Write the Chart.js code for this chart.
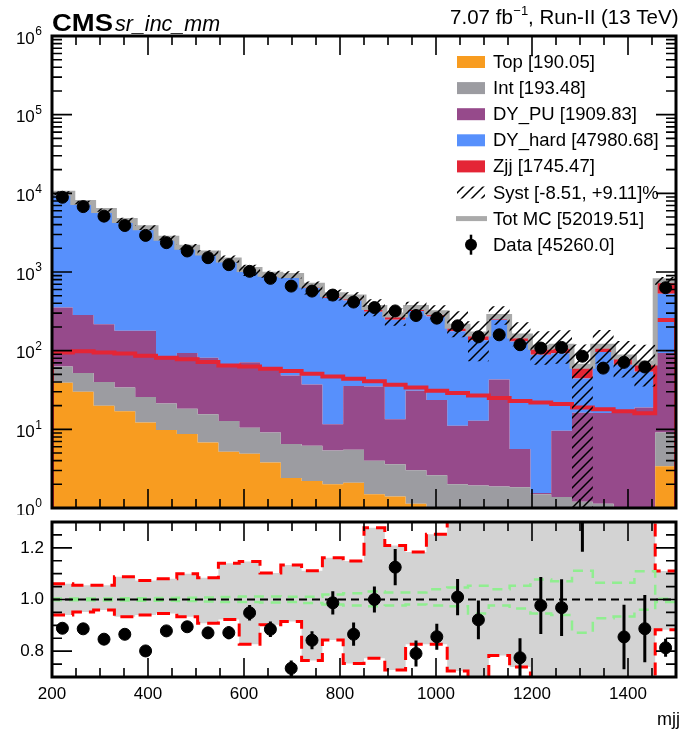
<!DOCTYPE html>
<html>
<head>
<meta charset="utf-8">
<script src="https://cdn.jsdelivr.net/npm/chart.js@4.4.1/dist/chart.umd.min.js"></script>
<style>
  html, body { margin: 0; padding: 0; background: #fff; }
  #wrap { position: relative; width: 683px; height: 732px; }
  #mainChart { position: absolute; left: 0; top: 0; }
  #ratioChart { position: absolute; left: 0; top: 515px; }
</style>
</head>
<body>
<div id="wrap">
  <canvas id="mainChart" width="683" height="515"></canvas>
  <canvas id="ratioChart" width="683" height="217"></canvas>
</div>
<script>
// mjj bin edges (30 bins, last one is the overflow)
const edges = [200, 243.33, 286.67, 330, 373.33, 416.67, 460, 503.33, 546.67, 590, 633.33, 676.67, 720,
  763.33, 806.67, 850, 893.33, 936.67, 980, 1023.33, 1066.67, 1110, 1153.33, 1196.67, 1240, 1283.33,
  1326.67, 1370, 1413.33, 1456.67, 1500];

// MC components, bottom of the stack first
const topBkg = [39, 30, 20, 17, 12.2, 9.8, 8.7, 6.8, 5.2, 4.9, 3.8, 2.4, 2.2, 2.0, 2.1, 1.5, 1.4, 1.13, 0.9, 0.8,
  0.7, 0.6, 0.5, 0.4, 0.3, 0.3, 0.2, 0.2, 0.15, 3.4];
const intBkg = [24, 22, 20, 17, 13.6, 11.5, 9.6, 8.7, 7.6, 5.6, 5.3, 4.1, 4.0, 3.4, 3.4, 2.5, 2.2, 1.9, 1.7, 1.2,
  1.23, 1.28, 1.34, 1.1, 1.08, 0.9, 0.93, 0.83, 0.75, 5.7];
const dyPU = [290, 233, 177, 145, 153, 61, 75, 66, 55, 61, 51, 42, 31, 6.2, 30, 31, 9.8, 28, 21, 9.1,
  10.9, 41, 3.8, 0.05, 8.2, 15, 15, 16, 18, 84];
const dyHard = [9578, 7265, 5749, 4236, 3381, 2523, 1897, 1592, 1290, 941, 819, 799, 591, 457, 400, 277, 234, 289, 248, 165,
  123, 204, 125, 87, 83, 28, 80, 49, 35, 437];
const zjj = [95, 98, 95, 92, 86, 81, 78, 72, 65, 63, 59, 55, 51, 47, 44, 41, 37, 34, 31, 29,
  27, 25, 23, 22, 21, 19, 18, 17, 16, 246];

const dataCounts = [8910, 6780, 5130, 3900, 2920, 2360, 1850, 1520, 1240, 1020, 830, 662, 572, 509, 415, 353, 320, 280, 259, 207,
  150, 159, 119, 108, 110, 85, 60, 71, 62, 631];
const ratioErr = [0.01, 0.012, 0.013, 0.015, 0.02, 0.018, 0.02, 0.022, 0.025, 0.03, 0.03, 0.03, 0.035, 0.045, 0.045, 0.05, 0.07, 0.05, 0.05, 0.07,
  0.075, 0.05, 0.075, 0.11, 0.11, 0.16, 0.07, 0.125, 0.13, 0.035];

// relative systematic band (hatched above, grey/red below)
const sysUp = [1.061, 1.055, 1.055, 1.088, 1.074, 1.08, 1.10, 1.084, 1.14, 1.147, 1.103, 1.134, 1.111, 1.162, 1.149, 1.278, 1.209, 1.184, 1.253, 1.55,
  1.45, 1.35, 1.5, 1.6, 1.6, 1.9, 1.6, 1.6, 1.7, 1.11];
const sysDn = [0.94, 0.952, 0.959, 0.933, 0.94, 0.946, 0.933, 0.908, 0.923, 0.827, 0.902, 0.915, 0.764, 0.843, 0.752, 0.773, 0.727, 0.827, 0.827, 0.723,
  0.45, 0.783, 0.739, 0.6, 0.6, 0.01, 0.6, 0.55, 0.5, 0.883];
// MC stat band (green dashed)
const statUp = [1.004, 1.004, 1.004, 1.005, 1.005, 1.006, 1.007, 1.008, 1.01, 1.012, 1.012, 1.011, 1.011, 1.019, 1.024, 1.031, 1.027, 1.027, 1.04, 1.046,
  1.053, 1.04, 1.053, 1.077, 1.071, 1.111, 1.065, 1.065, 1.109, 1.003];
const statDn = [0.997, 0.997, 0.996, 0.996, 0.995, 0.995, 0.994, 0.992, 0.99, 0.99, 0.988, 0.99, 0.986, 0.981, 0.977, 0.974, 0.977, 0.981, 0.977, 0.974,
  0.946, 0.977, 0.965, 0.946, 0.94, 0.871, 0.927, 0.934, 0.96, 0.99];

const legendLabels = ['Top [190.05]', 'Int [193.48]', 'DY_PU [1909.83]', 'DY_hard [47980.68]', 'Zjj [1745.47]',
  'Syst [-8.51, +9.11]%', 'Tot MC [52019.51]', 'Data [45260.0]'];
const colors = ['#f89c20', '#9c9ca1', '#964a8b', '#5790fc', '#e42536'];
const FONT = '"Liberation Sans", Arial, Helvetica, sans-serif';

const centers = edges.slice(0, -1).map((e, i) => (e + edges[i + 1]) / 2);
function stepPts(vals) {
  const p = vals.map((v, i) => ({x: edges[i], y: v}));
  p.push({x: edges[edges.length - 1], y: vals[vals.length - 1]});
  return p;
}

function hatchPattern() {
  const c = document.createElement('canvas');
  c.width = 10; c.height = 10;
  const g = c.getContext('2d');
  g.strokeStyle = '#000';
  g.lineWidth = 1.5;
  g.beginPath();
  g.moveTo(-1, 11); g.lineTo(11, -1);
  g.moveTo(-6, 6); g.lineTo(6, -6);
  g.moveTo(4, 16); g.lineTo(16, 4);
  g.stroke();
  return g.createPattern(c, 'repeat');
}
const hatch = hatchPattern();

// cumulative stack
let cum = new Array(centers.length).fill(0);
const stackSets = [topBkg, intBkg, dyPU, dyHard, zjj].map((vals, k) => {
  cum = cum.map((c, i) => c + vals[i]);
  return {
    data: stepPts(cum), stepped: 'before', borderWidth: 0, pointRadius: 0,
    backgroundColor: colors[k], fill: k === 0 ? 'start' : '-1', order: 10
  };
});
const totMC = cum;
const ratio = dataCounts.map((d, i) => d / totMC[i]);

function drawFrame(chart, yTicks) {
  const {ctx, chartArea: a, scales: {x, y}} = chart;
  ctx.save();
  ctx.strokeStyle = '#000';
  ctx.lineWidth = 1.6;
  ctx.beginPath();
  for (let v = 200; v <= 1500; v += 50) {
    const px = x.getPixelForValue(v);
    const L = v % 200 === 0 ? 19 : 9;
    ctx.moveTo(px, a.top); ctx.lineTo(px, a.top + L);
    ctx.moveTo(px, a.bottom); ctx.lineTo(px, a.bottom - L);
  }
  yTicks.forEach(([v, major]) => {
    const py = y.getPixelForValue(v);
    const L = major ? 20 : 10;
    ctx.moveTo(a.left, py); ctx.lineTo(a.left + L, py);
    ctx.moveTo(a.right, py); ctx.lineTo(a.right - L, py);
  });
  ctx.stroke();
  ctx.lineWidth = 3;
  ctx.strokeRect(a.left, a.top, a.right - a.left, a.bottom - a.top);
  ctx.restore();
}

const mainDecor = {
  id: 'mainDecor',
  afterDraw(chart) {
    const {ctx, chartArea: a, scales: {y}} = chart;
    const yt = [];
    for (let k = 0; k < 6; k++) for (let m = 1; m <= 9; m++) yt.push([m * Math.pow(10, k), m === 1]);
    yt.push([1e6, true]);
    drawFrame(chart, yt);

    ctx.save();
    ctx.fillStyle = '#000';
    // y labels 10^k
    for (let k = 0; k <= 6; k++) {
      const py = y.getPixelForValue(Math.pow(10, k));
      ctx.font = '17px ' + FONT;
      const w10 = ctx.measureText('10').width;
      ctx.font = '12px ' + FONT;
      const we = ctx.measureText(String(k)).width;
      const x0 = 42 - we - w10 - 0.5;
      ctx.textBaseline = 'middle';
      ctx.textAlign = 'left';
      ctx.font = '17px ' + FONT;
      ctx.fillText('10', x0, py + 3);
      ctx.font = '12px ' + FONT;
      ctx.fillText(String(k), x0 + w10 + 0.5, py - 4);
    }
    // header
    ctx.textBaseline = 'alphabetic';
    ctx.font = 'bold 23px ' + FONT;
    const wc = ctx.measureText('CMS').width;
    ctx.save();
    ctx.translate(a.left, 31);
    ctx.scale(61 / wc, 1);
    ctx.fillText('CMS', 0, 0);
    ctx.restore();
    ctx.font = 'italic 21.5px ' + FONT;
    ctx.fillText('sr_inc_mm', 115, 31);

    const p1 = '7.07 fb', p2 = '\u22121', p3 = ', Run-II (13 TeV)';
    ctx.font = '20.5px ' + FONT;
    const w1 = ctx.measureText(p1).width, w3 = ctx.measureText(p3).width;
    ctx.font = '13px ' + FONT;
    const w2 = ctx.measureText(p2).width;
    let xs = 678 - (w1 + w2 + w3);
    ctx.font = '20.5px ' + FONT;
    ctx.fillText(p1, xs, 24);
    ctx.font = '13px ' + FONT;
    ctx.fillText(p2, xs + w1 + 0.5, 15);
    ctx.font = '20.5px ' + FONT;
    ctx.fillText(p3, xs + w1 + w2 + 0.5, 24);

    // legend
    ctx.font = '18.5px ' + FONT;
    ctx.textBaseline = 'middle';
    legendLabels.forEach((lab, i) => {
      const yc = 62 + i * 26.1;
      if (i < 5) {
        ctx.fillStyle = colors[i];
        ctx.fillRect(457, yc - 6, 28, 12);
      } else if (i === 5) {
        ctx.fillStyle = hatch;
        ctx.fillRect(457, yc - 6, 28, 12);
      } else if (i === 6) {
        ctx.strokeStyle = '#aaaaaa';
        ctx.lineWidth = 5;
        ctx.beginPath(); ctx.moveTo(456, yc); ctx.lineTo(487, yc); ctx.stroke();
      } else {
        ctx.fillStyle = '#000';
        ctx.strokeStyle = '#000';
        ctx.lineWidth = 2.5;
        ctx.beginPath(); ctx.moveTo(471, yc - 10); ctx.lineTo(471, yc + 10); ctx.stroke();
        ctx.beginPath(); ctx.arc(471, yc, 6, 0, Math.PI * 2); ctx.fill();
      }
      ctx.fillStyle = '#000';
      ctx.fillText(lab, 493, yc + 1);
    });
    ctx.restore();
  }
};

new Chart(document.getElementById('mainChart'), {
  type: 'line',
  data: {
    datasets: [
      ...stackSets,
      {data: stepPts(totMC.map((t, i) => t * sysDn[i])), stepped: 'before', borderWidth: 0, pointRadius: 0, fill: false, order: 3},
      {data: stepPts(totMC.map((t, i) => t * sysUp[i])), stepped: 'before', borderWidth: 0, pointRadius: 0, fill: '-1', backgroundColor: hatch, order: 3},
      {data: [{x: 200, y: 1}, ...stepPts(zjj), {x: 1500, y: 1}], stepped: 'before', borderColor: colors[4], borderWidth: 4, pointRadius: 0, fill: false, order: 5},
      {data: stepPts(totMC), stepped: 'before', borderColor: '#aaaaaa', borderWidth: 5, pointRadius: 0, fill: false, order: 4},
      {data: centers.map((c, i) => ({x: c, y: dataCounts[i]})), showLine: false, pointRadius: 6, pointBackgroundColor: '#000', pointBorderColor: '#000', order: 0}
    ]
  },
  options: {
    responsive: false, animation: false, devicePixelRatio: 1, events: [],
    layout: {padding: {left: 52, right: 2, top: 36, bottom: 3}},
    plugins: {legend: {display: false}, tooltip: {enabled: false}},
    scales: {
      x: {type: 'linear', min: 200, max: 1500, display: false},
      y: {type: 'logarithmic', min: 1, max: 1e6, display: false}
    }
  },
  plugins: [mainDecor]
});

const ratioDecor = {
  id: 'ratioDecor',
  afterDatasetsDraw(chart) {
    const {ctx, chartArea: a, scales: {x, y}} = chart;
    ctx.save();
    ctx.beginPath();
    ctx.rect(a.left, a.top, a.right - a.left, a.bottom - a.top);
    ctx.clip();
    ctx.strokeStyle = '#000';
    ctx.lineWidth = 3;
    ctx.beginPath();
    ratio.forEach((r, i) => {
      const px = x.getPixelForValue(centers[i]);
      ctx.moveTo(px, y.getPixelForValue(r - ratioErr[i]));
      ctx.lineTo(px, y.getPixelForValue(r + ratioErr[i]));
    });
    ctx.stroke();
    ctx.restore();
  },
  afterDraw(chart) {
    const {ctx, chartArea: a, scales: {x, y}} = chart;
    const yt = [];
    for (let v = 0.75; v < 1.3; v += 0.05) yt.push([v, Math.abs(v * 10 - Math.round(v * 10)) < 1e-6 && Math.round(v * 10) % 2 === 0]);
    drawFrame(chart, yt);
    ctx.save();
    ctx.fillStyle = '#000';
    ctx.font = '17px ' + FONT;
    ctx.textBaseline = 'middle';
    ctx.textAlign = 'right';
    ['0.8', '1.0', '1.2'].forEach(t => ctx.fillText(t, 44, y.getPixelForValue(parseFloat(t))));
    ctx.textAlign = 'center';
    for (let v = 200; v <= 1400; v += 200) ctx.fillText(String(v), x.getPixelForValue(v), a.bottom + 17);
    ctx.textAlign = 'right';
    ctx.font = '18px ' + FONT;
    ctx.fillText('mjj', 680, a.bottom + 43);
    ctx.restore();
  }
};

new Chart(document.getElementById('ratioChart'), {
  type: 'line',
  data: {
    datasets: [
      {data: stepPts(sysDn), stepped: 'before', borderColor: '#ff0000', borderWidth: 3, borderDash: [13, 7], pointRadius: 0, fill: false, order: 2},
      {data: stepPts(sysUp), stepped: 'before', borderColor: '#ff0000', borderWidth: 3, borderDash: [13, 7], pointRadius: 0, fill: '-1', backgroundColor: '#d3d3d3', order: 2},
      {data: stepPts(statDn), stepped: 'before', borderColor: '#90ee90', borderWidth: 2.5, borderDash: [10, 7], pointRadius: 0, fill: false, order: 1},
      {data: stepPts(statUp), stepped: 'before', borderColor: '#90ee90', borderWidth: 2.5, borderDash: [10, 7], pointRadius: 0, fill: false, order: 1},
      {data: [{x: 200, y: 1}, {x: 1500, y: 1}], borderColor: '#000', borderWidth: 2, borderDash: [8, 5], pointRadius: 0, fill: false, order: 0.5},
      {data: centers.map((c, i) => ({x: c, y: ratio[i]})), showLine: false, pointRadius: 6, pointBackgroundColor: '#000', pointBorderColor: '#000', order: 0}
    ]
  },
  options: {
    responsive: false, animation: false, devicePixelRatio: 1, events: [],
    layout: {padding: {left: 52, right: 2, top: 3, bottom: 55}},
    plugins: {legend: {display: false}, tooltip: {enabled: false}},
    scales: {
      x: {type: 'linear', min: 200, max: 1500, display: false},
      y: {type: 'linear', min: 0.7, max: 1.3, display: false}
    }
  },
  plugins: [ratioDecor]
});
</script>
</body>
</html>
